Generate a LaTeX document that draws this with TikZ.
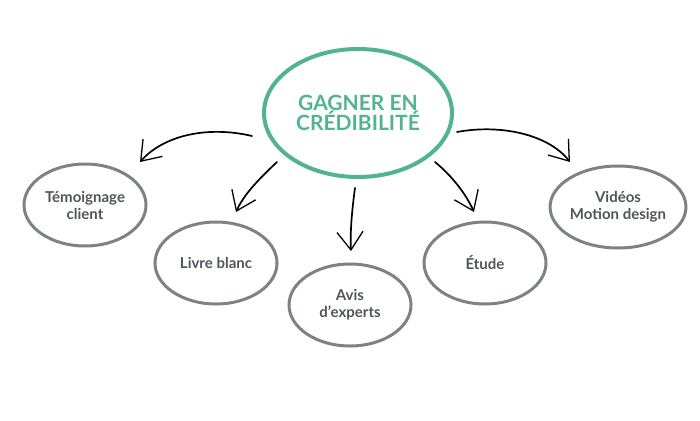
\documentclass[tikz,border=0pt]{standalone}
\usepackage{fontspec}
\setmainfont{Lato}
\usetikzlibrary{arrows.meta,shapes.geometric}
\definecolor{mgreen}{HTML}{52B48E}
\definecolor{mgray}{HTML}{7E8285}
\definecolor{mtext}{HTML}{50555B}
\begin{document}
\begin{tikzpicture}[x=1pt,y=-1pt,
  mainell/.style={draw=mgreen,line width=4pt,ellipse,minimum width=188pt,minimum height=128pt,inner sep=0pt,
    text=mgreen,font=\fontsize{21}{20.5}\selectfont\bfseries,align=center},
  subell/.style={draw=mgray,line width=3pt,ellipse,minimum width=122pt,minimum height=82pt,inner sep=0pt,
    text=mtext,font=\fontsize{15}{17}\selectfont\bfseries,align=center},
  arr/.style={draw=black,line width=1.7pt,line cap=round,-{Straight Barb[length=18pt,width=26pt,line width=1.3pt]}}
]
\useasboundingbox (0,0) rectangle (700,420);
\node[mainell] (main) at (358,113) {GAGNER EN\\CRÉDIBILITÉ};
\node[subell] (temo) at (85,205) {Témoignage\\client};
\node[subell] (livre) at (216,263) {Livre blanc};
\node[subell] (avis) at (350,305) {Avis\\d’experts};
\node[subell] (etude) at (485,263) {Étude};
\node[subell] (video) at (618,207) {Vidéos\\Motion design};
\coordinate (s1) at (252,136);
\coordinate (e1) at (140,162);
\coordinate (s2) at (277,162);
\coordinate (e2) at (236,212);
\coordinate (s3) at (355,188);
\coordinate (e3) at (351,251);
\coordinate (s4) at (435,162);
\coordinate (e4) at (474,212);
\coordinate (s5) at (457,132);
\coordinate (e5) at (570,162);
\draw[arr] (s1) .. controls (210,126) and (165,134) .. (e1);
\draw[arr] (s2) .. controls (260,178) and (244,194) .. (e2);
\draw[arr] (s3) .. controls (352,210) and (350,232) .. (e3);
\draw[arr] (s4) .. controls (452,176) and (466,194) .. (e4);
\draw[arr] (s5) .. controls (500,124) and (548,134) .. (e5);
\end{tikzpicture}
\end{document}
